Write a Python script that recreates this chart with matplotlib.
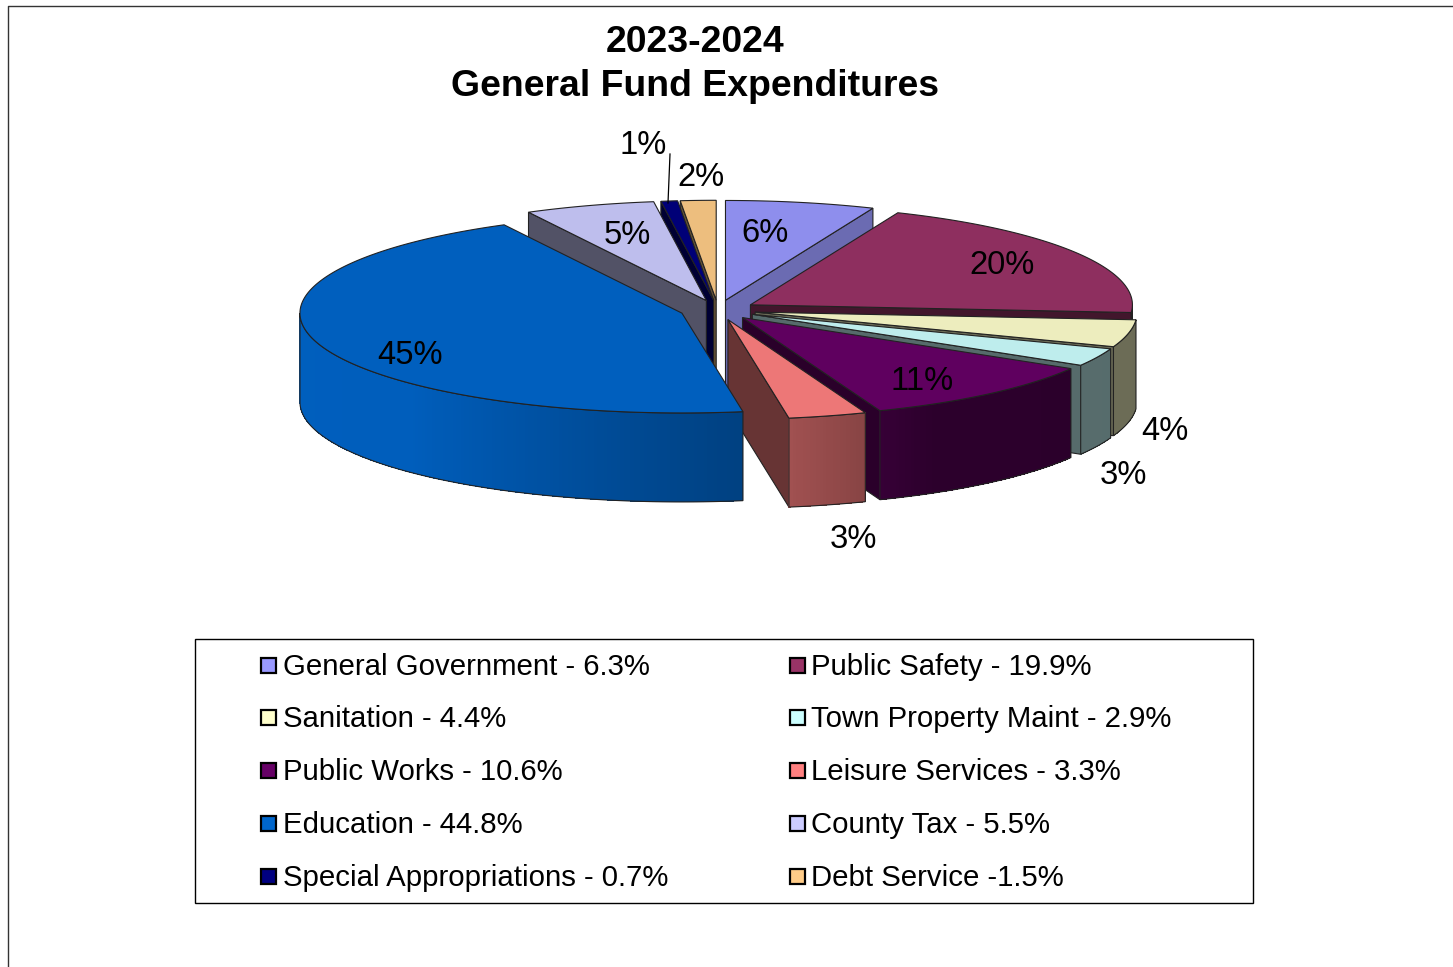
import numpy as np
import matplotlib
matplotlib.use("Agg")
import matplotlib.pyplot as plt
from matplotlib.patches import Polygon, Rectangle

plt.rcParams['font.family'] = ['Liberation Sans', 'DejaVu Sans']

# Budget shares, clockwise from twelve o'clock
categories = ["General Government", "Public Safety", "Sanitation", "Town Property Maint",
              "Public Works", "Leisure Services", "Education", "County Tax",
              "Special Appropriations", "Debt Service"]
shares = [6.3, 19.9, 4.4, 2.9, 10.6, 3.3, 44.8, 5.5, 0.7, 1.5]
slice_labels = ["6%", "20%", "4%", "3%", "11%", "3%", "45%", "5%", "1%", "2%"]
legend_labels = ["General Government - 6.3%", "Public Safety - 19.9%",
                 "Sanitation - 4.4%", "Town Property Maint - 2.9%",
                 "Public Works - 10.6%", "Leisure Services - 3.3%",
                 "Education - 44.8%", "County Tax - 5.5%",
                 "Special Appropriations - 0.7%", "Debt Service -1.5%"]
base_colors = ["#9999FF", "#993366", "#FFFFCC", "#CCFFFF", "#660066",
               "#FF8080", "#0066CC", "#CCCCFF", "#000080", "#FFCC88"]

# Pie geometry in figure pixels
CX, CY = 718.0, 310.0
RX, RY = 382.0, 99.8
EXPLODE = 38.0
DEPTH = 89.0
TOP_SHADE = 0.93
EDGE = "#222222"
LW = 0.8

# Painter's order: far slices first, nearest slices last
DRAW_ORDER = [0, 9, 8, 7, 1, 2, 3, 4, 5, 6]

label_xy = [(765, 233), (1002, 265), (1165, 431), (1123, 475), (922, 381),
            (853, 539), (410, 355), (627, 235), (643, 145), (701, 177)]


def shade(color, k):
    r, g, b = matplotlib.colors.to_rgb(color)
    return (r * k, g * k, b * k)


def rim_shade(theta):
    return np.interp(theta, [90, 150, 158.8, 170.6, 225, 270],
                     [0.42, 0.43, 0.53, 0.63, 0.92, 0.93])


def radial_shade(theta):
    return np.interp(theta % 360, [22, 94, 180, 330], [0.70, 0.43, 0.40, 0.40])


def rim_points(ox, oy, angles):
    rad = np.radians(angles)
    return np.column_stack([ox + RX * np.sin(rad), oy - RY * np.cos(rad)])


fig = plt.figure(figsize=(14.53, 9.67), dpi=100, facecolor="white")
ax = fig.add_axes([0, 0, 1, 1])
ax.set_xlim(0, 1453)
ax.set_ylim(967, 0)
ax.axis("off")

# Outer chart frame
ax.plot([7.5, 7.5, 1453], [967, 6, 6], color="#333333", lw=1.0, zorder=1)

ends = np.cumsum(shares) / np.sum(shares) * 360.0
starts = np.concatenate([[0.0], ends[:-1]])

z = 2
for i in DRAW_ORDER:
    t0, t1 = starts[i], ends[i]
    mid = np.radians((t0 + t1) / 2)
    ox = CX + EXPLODE * np.sin(mid)
    oy = CY - EXPLODE * np.cos(mid) * RY / RX
    col = base_colors[i]

    # Flat cut faces that turn toward the viewer
    for theta, visible in ((t0, np.sin(np.radians(t0)) < -1e-6),
                           (t1, np.sin(np.radians(t1)) > 1e-6)):
        if visible:
            p = rim_points(ox, oy, np.array([theta]))[0]
            ax.add_patch(Polygon([(ox, oy), p, (p[0], p[1] + DEPTH), (ox, oy + DEPTH)],
                                 closed=True, fc=shade(col, radial_shade(theta)),
                                 ec=EDGE, lw=LW, zorder=z))
            z += 1

    # Curved outer wall, shaded strip by strip along the front half
    a0, a1 = max(t0, 90.0), min(t1, 270.0)
    if a1 > a0:
        angles = np.linspace(a0, a1, max(int((a1 - a0) * 2), 2) + 1)
        pts = rim_points(ox, oy, angles)
        for k in range(len(angles) - 1):
            # Each strip reaches into the next so no seams show between them
            k2 = min(k + 2, len(angles) - 1)
            quad = [pts[k], pts[k2], pts[k2] + [0, DEPTH], pts[k] + [0, DEPTH]]
            c = shade(col, rim_shade((angles[k] + angles[k + 1]) / 2))
            ax.add_patch(Polygon(quad, closed=True, fc=c, ec="none", lw=0,
                                 antialiased=False, zorder=z))
        z += 1
        outline = np.vstack([pts, (pts + [0, DEPTH])[::-1]])
        ax.add_patch(Polygon(outline, closed=True, fc="none", ec=EDGE, lw=LW, zorder=z))
        z += 1

    # Top face
    arc = rim_points(ox, oy, np.linspace(t0, t1, max(int(t1 - t0) * 2, 4) + 1))
    ax.add_patch(Polygon(np.vstack([[ox, oy], arc]), closed=True,
                         fc=shade(col, TOP_SHADE), ec=EDGE, lw=LW, zorder=z))
    z += 1

# Slice percentages and the leader line for the smallest slice
for text, (x, y) in zip(slice_labels, label_xy):
    ax.text(x, y, text, ha="center", va="center", fontsize=23.6, color="black", zorder=z)
ax.plot([670, 668], [154, 203], color="black", lw=0.9, zorder=z)

# Title
ax.text(695, 43, "2023-2024", ha="center", va="center", fontsize=26.9,
        fontweight="bold", color="black", zorder=z)
ax.text(695, 86, "General Fund Expenditures", ha="center", va="center", fontsize=26.9,
        fontweight="bold", color="black", zorder=z)

# Legend box, filled row by row across two columns
ax.add_patch(Rectangle((195, 639), 1058, 264, fc="white", ec="black", lw=1.0, zorder=1))
swatch_y = [665, 717, 770, 823, 876]
text_y = [667, 719, 772, 825, 878]
col_swatch = [261, 790]
col_text = [283, 811]
for i, text in enumerate(legend_labels):
    r, c = divmod(i, 2)
    ax.add_patch(Rectangle((col_swatch[c], swatch_y[r] - 7.5), 15, 15, fc=base_colors[i],
                           ec="black", lw=1.6, zorder=z))
    ax.text(col_text[c], text_y[r], text, ha="left", va="center", fontsize=21.15,
            color="black", zorder=z)

fig.savefig("out.png", dpi=100, facecolor="white")
